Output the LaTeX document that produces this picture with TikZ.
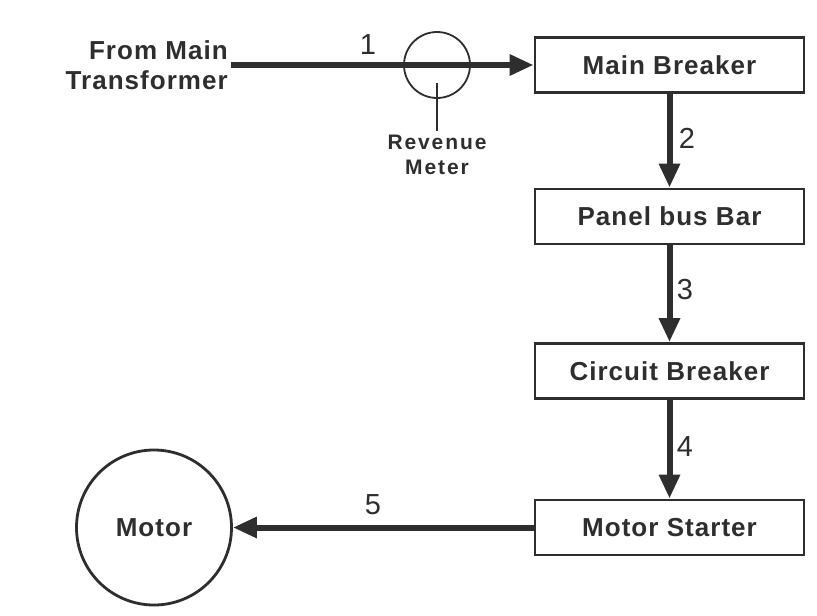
\documentclass[tikz,border=0pt]{standalone}
\usepackage{fontspec}
\setmainfont{Liberation Sans}
\newfontfamily\lblfont[LetterSpace=4]{Liberation Sans}
\newfontfamily\smallfont[LetterSpace=9]{Liberation Sans}
\usetikzlibrary{arrows.meta}
\definecolor{ink}{HTML}{2E2E2E}
\begin{document}
\begin{tikzpicture}[x=1pt,y=-1pt,
  box/.style={draw=ink, line width=2.8pt, minimum width=269pt, minimum height=55pt,
    inner sep=0pt, font=\fontsize{26}{30}\lblfont\bfseries, text=ink},
  flow/.style={draw=ink, line width=6pt, -{Triangle[length=24pt,width=20pt]}},
  num/.style={font=\fontsize{29}{30}\selectfont, text=ink, inner sep=0pt},
  lbl/.style={font=\fontsize{26}{30}\lblfont\bfseries, text=ink, inner sep=0pt},
  smalllbl/.style={font=\fontsize{21}{25}\smallfont\bfseries, text=ink, align=center},
  thin/.style={draw=ink, line width=2.8pt}
]
\useasboundingbox (0,0) rectangle (817,616);
\fill[white] (0,0) rectangle (817,616);

% boxes
\node[box] (mb) at (669.5,65) {Main Breaker};
\node[box] (pb) at (669.5,216.5) {Panel bus Bar};
\node[box] (cb) at (669.5,371) {Circuit Breaker};
\node[box] (ms) at (669.5,527.5) {Motor Starter};

% motor
\node[circle, thin, minimum size=155pt, inner sep=0pt, lbl] (motor) at (154,527.5) {Motor};

% source label
\node[lbl, align=right, anchor=east] (srclbl) at (228,65) {From Main\\Transformer};

% revenue meter
\node[circle, draw=ink, line width=1.8pt, minimum size=66pt, inner sep=0pt] (meter) at (437,65) {};
\coordinate (mtick) at (437,83);
\node[smalllbl, anchor=north, inner xsep=0pt, inner ysep=4pt] (rev) at (437,131) {Revenue\\Meter};
\draw[thin] (mtick) -- (rev.north);

% connectors
\coordinate (src) at (231,65);
\draw[flow] (src) -- (src -| mb.west);
\draw[flow] (mb) -- (pb);
\draw[flow] (pb) -- (cb);
\draw[flow] (cb) -- (ms);
\draw[flow] (ms.west) -- (motor.east);

% numbers
\node[num] (n1) at (368,45) {1};
\node[num] (n2) at (687,138) {2};
\node[num] (n3) at (685,290) {3};
\node[num] (n4) at (685,447) {4};
\node[num] (n5) at (373,505) {5};
\end{tikzpicture}
\end{document}
